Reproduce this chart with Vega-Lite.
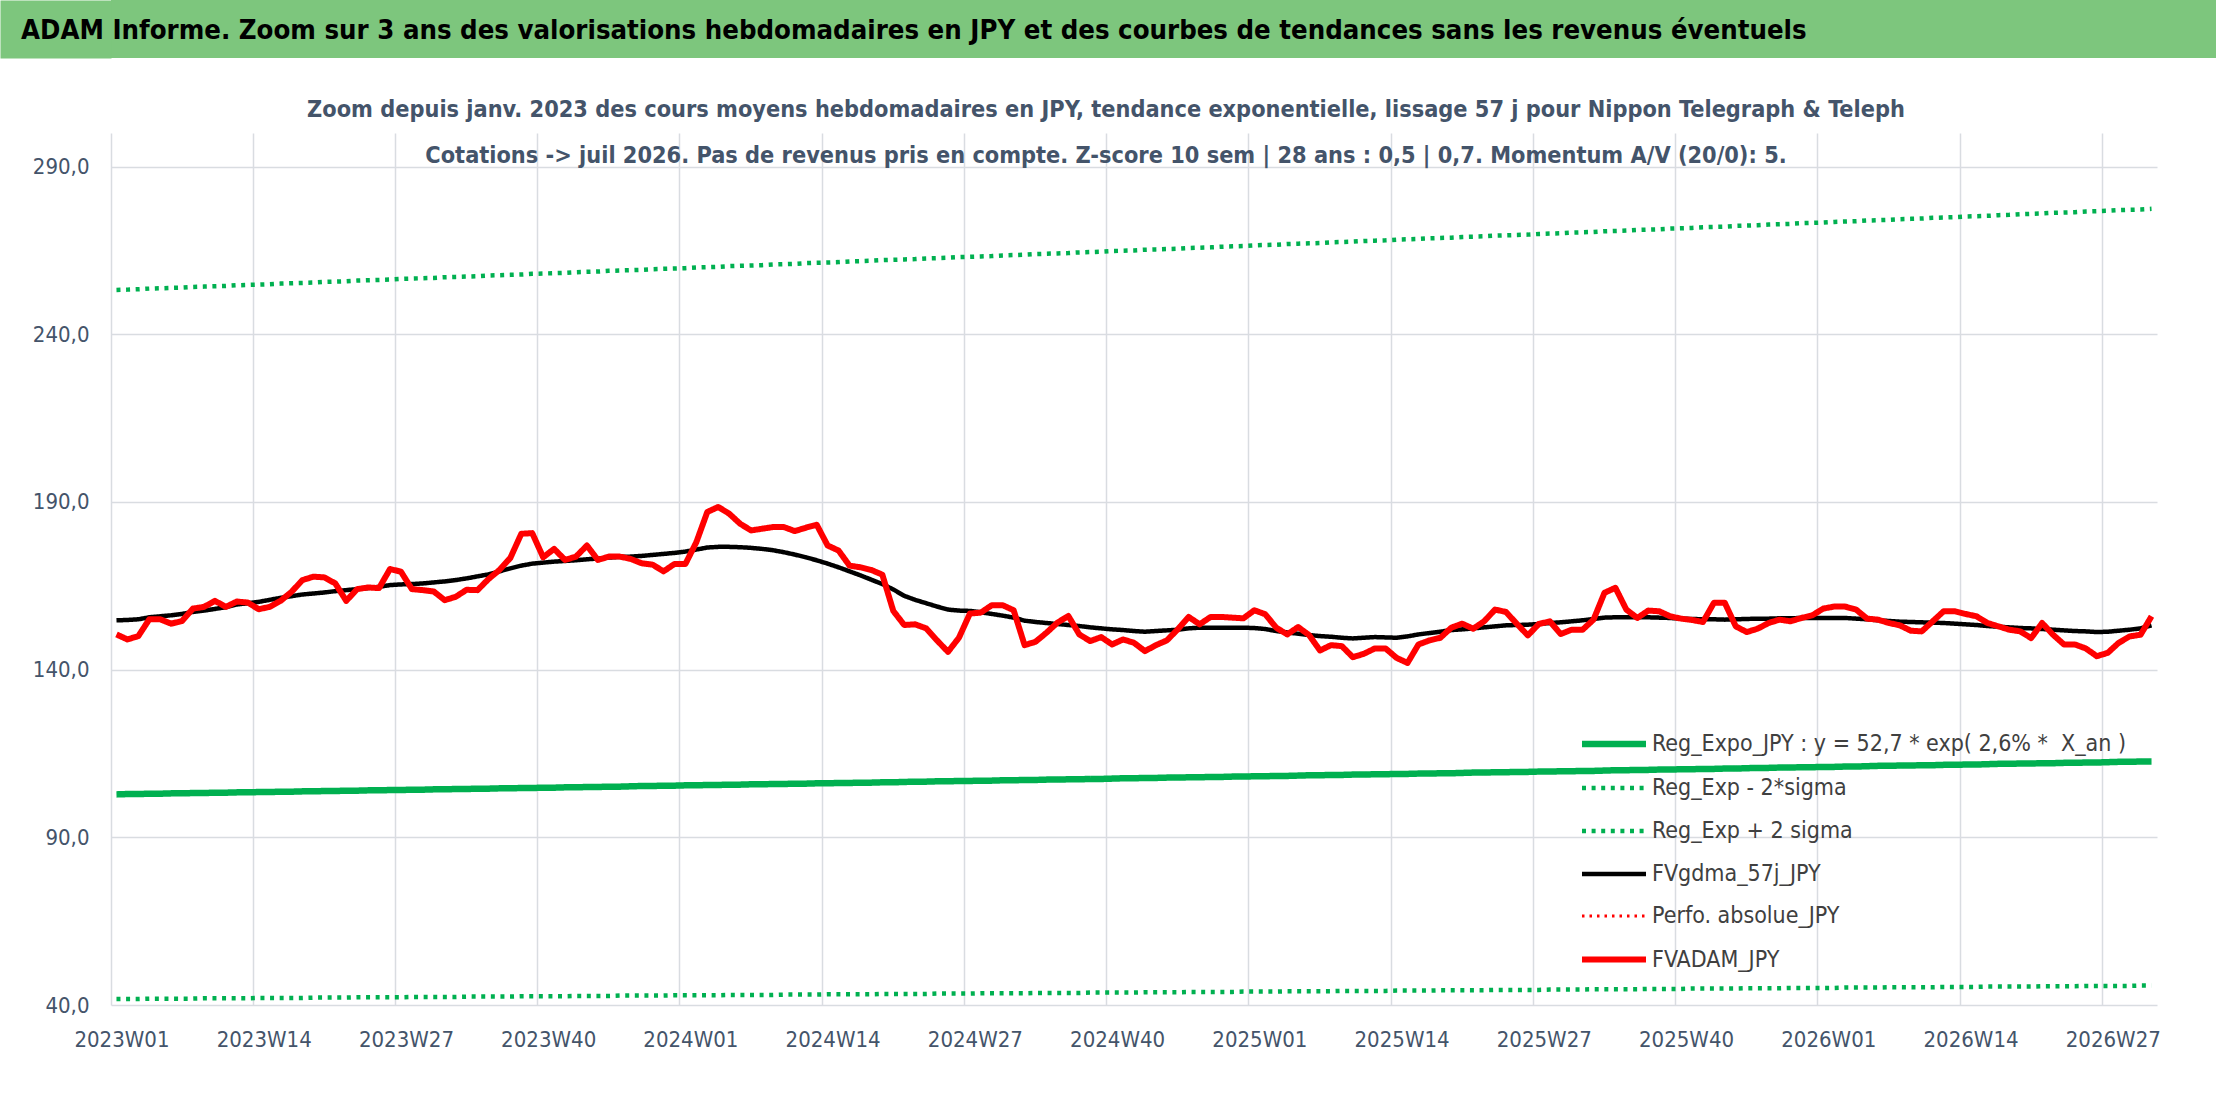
{
"$schema": "https://vega.github.io/schema/vega-lite/v6.json",
"background": "white",
"padding": 0,
"spacing": 39,
"config": {
  "view": {"stroke": null},
  "font": "DejaVu Sans Condensed, DejaVu Sans, sans-serif",
  "legend": {"orient": "none", "legendX": 1471, "legendY": 712, "symbolType": "M-1.123,0L1.123,0", "symbolSize": 3249, "labelFont": "DejaVu Sans Condensed, DejaVu Sans, sans-serif", "labelFontSize": 23, "labelColor": "#404040", "labelLimit": 1000, "labelOffset": 6, "rowPadding": 0, "padding": 0, "offset": 0}
},
"vconcat": [
  {
    "width": 2105, "height": 58,
    "view": {"fill": "#7DC67D", "stroke": null},
    "data": {"values": [{"t": "ADAM Informe. Zoom sur 3 ans des valorisations hebdomadaires en JPY et des courbes de tendances sans les revenus éventuels"}]},
    "mark": {"type": "text", "align": "left", "baseline": "middle", "x": -90, "dy": 2, "font": "DejaVu Sans Condensed, DejaVu Sans, sans-serif", "fontWeight": "bold", "fontSize": 27.3, "color": "#000000"},
    "encoding": {
      "text": {"field": "t", "type": "nominal"},
      "y": {"field": "t", "type": "nominal", "axis": {"labels": false, "ticks": false, "title": null, "grid": false, "domain": true, "domainColor": "#7DC67D", "domainWidth": 111, "offset": 55.5}}
    }
  },
  {
    "width": 2046, "height": 872,
    "title": {"text": ["Zoom depuis janv. 2023 des cours moyens hebdomadaires en JPY, tendance exponentielle, lissage 57 j pour Nippon Telegraph & Teleph", "Cotations -> juil 2026. Pas de revenus pris en compte. Z-score 10 sem | 28 ans : 0,5 | 0,7. Momentum A/V (20/0): 5."], "font": "DejaVu Sans Condensed, DejaVu Sans, sans-serif", "fontSize": 23.3, "fontWeight": "bold", "color": "#44546A", "lineHeight": 46, "anchor": "middle", "frame": "group", "dx": -28, "offset": -35},
    "data": {"values": [
{"w":"2023W01","a":150.5,"m":154.7,"r":102.8,"lo":41.8,"hi":253.2},
{"w":"2023W02","a":149.0,"m":154.8,"r":102.9,"lo":41.8,"hi":253.3},
{"w":"2023W03","a":150.0,"m":155.0,"r":102.9,"lo":41.8,"hi":253.4},
{"w":"2023W04","a":155.0,"m":155.6,"r":103.0,"lo":41.9,"hi":253.6},
{"w":"2023W05","a":155.0,"m":155.9,"r":103.0,"lo":41.9,"hi":253.7},
{"w":"2023W06","a":153.7,"m":156.2,"r":103.1,"lo":41.9,"hi":253.8},
{"w":"2023W07","a":154.5,"m":156.6,"r":103.1,"lo":41.9,"hi":253.9},
{"w":"2023W08","a":158.2,"m":157.2,"r":103.2,"lo":41.9,"hi":254.1},
{"w":"2023W09","a":158.7,"m":157.6,"r":103.2,"lo":42.0,"hi":254.2},
{"w":"2023W10","a":160.5,"m":158.1,"r":103.3,"lo":42.0,"hi":254.3},
{"w":"2023W11","a":158.7,"m":158.6,"r":103.3,"lo":42.0,"hi":254.4},
{"w":"2023W12","a":160.3,"m":159.4,"r":103.4,"lo":42.0,"hi":254.6},
{"w":"2023W13","a":160.0,"m":159.8,"r":103.4,"lo":42.0,"hi":254.7},
{"w":"2023W14","a":158.0,"m":160.2,"r":103.5,"lo":42.1,"hi":254.8},
{"w":"2023W15","a":158.7,"m":160.8,"r":103.5,"lo":42.1,"hi":254.9},
{"w":"2023W16","a":160.5,"m":161.4,"r":103.6,"lo":42.1,"hi":255.1},
{"w":"2023W17","a":163.2,"m":161.9,"r":103.6,"lo":42.1,"hi":255.2},
{"w":"2023W18","a":166.7,"m":162.4,"r":103.7,"lo":42.1,"hi":255.3},
{"w":"2023W19","a":167.7,"m":162.7,"r":103.7,"lo":42.2,"hi":255.4},
{"w":"2023W20","a":167.5,"m":163.0,"r":103.8,"lo":42.2,"hi":255.6},
{"w":"2023W21","a":165.7,"m":163.4,"r":103.8,"lo":42.2,"hi":255.7},
{"w":"2023W22","a":160.5,"m":163.7,"r":103.9,"lo":42.2,"hi":255.8},
{"w":"2023W23","a":164.0,"m":164.0,"r":103.9,"lo":42.3,"hi":256.0},
{"w":"2023W24","a":164.5,"m":164.3,"r":104.0,"lo":42.3,"hi":256.1},
{"w":"2023W25","a":164.3,"m":164.7,"r":104.0,"lo":42.3,"hi":256.2},
{"w":"2023W26","a":170.0,"m":165.2,"r":104.1,"lo":42.3,"hi":256.3},
{"w":"2023W27","a":169.2,"m":165.4,"r":104.1,"lo":42.3,"hi":256.5},
{"w":"2023W28","a":164.0,"m":165.5,"r":104.2,"lo":42.4,"hi":256.6},
{"w":"2023W29","a":163.7,"m":165.7,"r":104.2,"lo":42.4,"hi":256.7},
{"w":"2023W30","a":163.3,"m":166.0,"r":104.3,"lo":42.4,"hi":256.8},
{"w":"2023W31","a":160.7,"m":166.3,"r":104.3,"lo":42.4,"hi":257.0},
{"w":"2023W32","a":161.7,"m":166.7,"r":104.4,"lo":42.4,"hi":257.1},
{"w":"2023W33","a":163.8,"m":167.2,"r":104.4,"lo":42.5,"hi":257.2},
{"w":"2023W34","a":163.7,"m":167.8,"r":104.5,"lo":42.5,"hi":257.3},
{"w":"2023W35","a":167.0,"m":168.4,"r":104.5,"lo":42.5,"hi":257.5},
{"w":"2023W36","a":169.7,"m":169.3,"r":104.6,"lo":42.5,"hi":257.6},
{"w":"2023W37","a":173.3,"m":170.2,"r":104.6,"lo":42.5,"hi":257.7},
{"w":"2023W38","a":180.5,"m":171.0,"r":104.7,"lo":42.6,"hi":257.8},
{"w":"2023W39","a":180.7,"m":171.6,"r":104.7,"lo":42.6,"hi":258.0},
{"w":"2023W40","a":173.5,"m":171.9,"r":104.8,"lo":42.6,"hi":258.1},
{"w":"2023W41","a":176.0,"m":172.2,"r":104.8,"lo":42.6,"hi":258.2},
{"w":"2023W42","a":172.7,"m":172.4,"r":104.9,"lo":42.6,"hi":258.3},
{"w":"2023W43","a":173.7,"m":172.6,"r":104.9,"lo":42.7,"hi":258.5},
{"w":"2023W44","a":177.0,"m":172.9,"r":105.0,"lo":42.7,"hi":258.6},
{"w":"2023W45","a":172.7,"m":173.1,"r":105.0,"lo":42.7,"hi":258.7},
{"w":"2023W46","a":173.7,"m":173.4,"r":105.1,"lo":42.7,"hi":258.9},
{"w":"2023W47","a":173.7,"m":173.6,"r":105.1,"lo":42.8,"hi":259.0},
{"w":"2023W48","a":173.0,"m":173.7,"r":105.2,"lo":42.8,"hi":259.1},
{"w":"2023W49","a":171.7,"m":173.9,"r":105.3,"lo":42.8,"hi":259.2},
{"w":"2023W50","a":171.3,"m":174.2,"r":105.3,"lo":42.8,"hi":259.4},
{"w":"2023W51","a":169.3,"m":174.5,"r":105.4,"lo":42.8,"hi":259.5},
{"w":"2023W52","a":171.5,"m":174.8,"r":105.4,"lo":42.9,"hi":259.6},
{"w":"2024W01","a":171.5,"m":175.2,"r":105.5,"lo":42.9,"hi":259.7},
{"w":"2024W02","a":178.0,"m":175.8,"r":105.5,"lo":42.9,"hi":259.9},
{"w":"2024W03","a":187.0,"m":176.4,"r":105.6,"lo":42.9,"hi":260.0},
{"w":"2024W04","a":188.5,"m":176.6,"r":105.6,"lo":42.9,"hi":260.1},
{"w":"2024W05","a":186.5,"m":176.6,"r":105.7,"lo":43.0,"hi":260.3},
{"w":"2024W06","a":183.5,"m":176.5,"r":105.7,"lo":43.0,"hi":260.4},
{"w":"2024W07","a":181.5,"m":176.3,"r":105.8,"lo":43.0,"hi":260.5},
{"w":"2024W08","a":182.0,"m":176.0,"r":105.8,"lo":43.0,"hi":260.6},
{"w":"2024W09","a":182.5,"m":175.6,"r":105.9,"lo":43.0,"hi":260.8},
{"w":"2024W10","a":182.5,"m":175.0,"r":105.9,"lo":43.1,"hi":260.9},
{"w":"2024W11","a":181.3,"m":174.3,"r":106.0,"lo":43.1,"hi":261.0},
{"w":"2024W12","a":182.3,"m":173.5,"r":106.0,"lo":43.1,"hi":261.2},
{"w":"2024W13","a":183.2,"m":172.6,"r":106.1,"lo":43.1,"hi":261.3},
{"w":"2024W14","a":177.0,"m":171.6,"r":106.1,"lo":43.2,"hi":261.4},
{"w":"2024W15","a":175.5,"m":170.5,"r":106.2,"lo":43.2,"hi":261.5},
{"w":"2024W16","a":171.0,"m":169.3,"r":106.2,"lo":43.2,"hi":261.7},
{"w":"2024W17","a":170.5,"m":168.1,"r":106.3,"lo":43.2,"hi":261.8},
{"w":"2024W18","a":169.7,"m":166.8,"r":106.3,"lo":43.2,"hi":261.9},
{"w":"2024W19","a":168.3,"m":165.5,"r":106.4,"lo":43.3,"hi":262.1},
{"w":"2024W20","a":157.5,"m":163.9,"r":106.4,"lo":43.3,"hi":262.2},
{"w":"2024W21","a":153.3,"m":162.0,"r":106.5,"lo":43.3,"hi":262.3},
{"w":"2024W22","a":153.5,"m":160.8,"r":106.6,"lo":43.3,"hi":262.4},
{"w":"2024W23","a":152.3,"m":159.8,"r":106.6,"lo":43.3,"hi":262.6},
{"w":"2024W24","a":148.7,"m":158.8,"r":106.7,"lo":43.4,"hi":262.7},
{"w":"2024W25","a":145.3,"m":157.9,"r":106.7,"lo":43.4,"hi":262.8},
{"w":"2024W26","a":149.5,"m":157.6,"r":106.8,"lo":43.4,"hi":263.0},
{"w":"2024W27","a":156.7,"m":157.5,"r":106.8,"lo":43.4,"hi":263.1},
{"w":"2024W28","a":157.0,"m":157.1,"r":106.9,"lo":43.5,"hi":263.2},
{"w":"2024W29","a":159.2,"m":156.6,"r":106.9,"lo":43.5,"hi":263.3},
{"w":"2024W30","a":159.2,"m":156.1,"r":107.0,"lo":43.5,"hi":263.5},
{"w":"2024W31","a":157.7,"m":155.5,"r":107.0,"lo":43.5,"hi":263.6},
{"w":"2024W32","a":147.3,"m":154.6,"r":107.1,"lo":43.5,"hi":263.7},
{"w":"2024W33","a":148.3,"m":154.2,"r":107.1,"lo":43.6,"hi":263.9},
{"w":"2024W34","a":151.0,"m":153.9,"r":107.2,"lo":43.6,"hi":264.0},
{"w":"2024W35","a":154.0,"m":153.6,"r":107.2,"lo":43.6,"hi":264.1},
{"w":"2024W36","a":156.0,"m":153.3,"r":107.3,"lo":43.6,"hi":264.2},
{"w":"2024W37","a":150.5,"m":153.0,"r":107.3,"lo":43.6,"hi":264.4},
{"w":"2024W38","a":148.5,"m":152.6,"r":107.4,"lo":43.7,"hi":264.5},
{"w":"2024W39","a":149.7,"m":152.3,"r":107.4,"lo":43.7,"hi":264.6},
{"w":"2024W40","a":147.5,"m":152.0,"r":107.5,"lo":43.7,"hi":264.8},
{"w":"2024W41","a":149.0,"m":151.8,"r":107.6,"lo":43.7,"hi":264.9},
{"w":"2024W42","a":148.0,"m":151.5,"r":107.6,"lo":43.7,"hi":265.0},
{"w":"2024W43","a":145.5,"m":151.3,"r":107.7,"lo":43.8,"hi":265.2},
{"w":"2024W44","a":147.3,"m":151.5,"r":107.7,"lo":43.8,"hi":265.3},
{"w":"2024W45","a":148.7,"m":151.7,"r":107.8,"lo":43.8,"hi":265.4},
{"w":"2024W46","a":152.0,"m":151.9,"r":107.8,"lo":43.8,"hi":265.5},
{"w":"2024W47","a":155.7,"m":152.3,"r":107.9,"lo":43.9,"hi":265.7},
{"w":"2024W48","a":153.5,"m":152.5,"r":107.9,"lo":43.9,"hi":265.8},
{"w":"2024W49","a":155.7,"m":152.5,"r":108.0,"lo":43.9,"hi":265.9},
{"w":"2024W50","a":155.7,"m":152.5,"r":108.0,"lo":43.9,"hi":266.1},
{"w":"2024W51","a":155.5,"m":152.5,"r":108.1,"lo":43.9,"hi":266.2},
{"w":"2024W52","a":155.3,"m":152.5,"r":108.1,"lo":44.0,"hi":266.3},
{"w":"2025W01","a":157.7,"m":152.4,"r":108.2,"lo":44.0,"hi":266.5},
{"w":"2025W02","a":156.5,"m":152.1,"r":108.2,"lo":44.0,"hi":266.6},
{"w":"2025W03","a":152.5,"m":151.5,"r":108.3,"lo":44.0,"hi":266.7},
{"w":"2025W04","a":150.5,"m":151.1,"r":108.3,"lo":44.1,"hi":266.9},
{"w":"2025W05","a":152.7,"m":150.7,"r":108.4,"lo":44.1,"hi":267.0},
{"w":"2025W06","a":150.3,"m":150.3,"r":108.5,"lo":44.1,"hi":267.1},
{"w":"2025W07","a":145.7,"m":150.0,"r":108.5,"lo":44.1,"hi":267.2},
{"w":"2025W08","a":147.3,"m":149.8,"r":108.6,"lo":44.1,"hi":267.4},
{"w":"2025W09","a":147.0,"m":149.5,"r":108.6,"lo":44.2,"hi":267.5},
{"w":"2025W10","a":143.7,"m":149.3,"r":108.7,"lo":44.2,"hi":267.6},
{"w":"2025W11","a":144.7,"m":149.5,"r":108.7,"lo":44.2,"hi":267.8},
{"w":"2025W12","a":146.3,"m":149.7,"r":108.8,"lo":44.2,"hi":267.9},
{"w":"2025W13","a":146.3,"m":149.6,"r":108.8,"lo":44.2,"hi":268.0},
{"w":"2025W14","a":143.5,"m":149.5,"r":108.9,"lo":44.3,"hi":268.2},
{"w":"2025W15","a":142.0,"m":149.9,"r":108.9,"lo":44.3,"hi":268.3},
{"w":"2025W16","a":147.5,"m":150.5,"r":109.0,"lo":44.3,"hi":268.4},
{"w":"2025W17","a":148.7,"m":150.9,"r":109.0,"lo":44.3,"hi":268.6},
{"w":"2025W18","a":149.5,"m":151.3,"r":109.1,"lo":44.4,"hi":268.7},
{"w":"2025W19","a":152.5,"m":151.8,"r":109.1,"lo":44.4,"hi":268.8},
{"w":"2025W20","a":153.7,"m":152.0,"r":109.2,"lo":44.4,"hi":269.0},
{"w":"2025W21","a":152.2,"m":152.3,"r":109.3,"lo":44.4,"hi":269.1},
{"w":"2025W22","a":154.4,"m":152.6,"r":109.3,"lo":44.4,"hi":269.2},
{"w":"2025W23","a":157.9,"m":152.9,"r":109.4,"lo":44.5,"hi":269.4},
{"w":"2025W24","a":157.2,"m":153.2,"r":109.4,"lo":44.5,"hi":269.5},
{"w":"2025W25","a":153.6,"m":153.3,"r":109.5,"lo":44.5,"hi":269.6},
{"w":"2025W26","a":150.2,"m":153.4,"r":109.5,"lo":44.5,"hi":269.7},
{"w":"2025W27","a":153.6,"m":153.6,"r":109.6,"lo":44.5,"hi":269.9},
{"w":"2025W28","a":154.4,"m":153.9,"r":109.6,"lo":44.6,"hi":270.0},
{"w":"2025W29","a":150.6,"m":154.1,"r":109.7,"lo":44.6,"hi":270.1},
{"w":"2025W30","a":151.9,"m":154.4,"r":109.7,"lo":44.6,"hi":270.3},
{"w":"2025W31","a":151.9,"m":154.7,"r":109.8,"lo":44.6,"hi":270.4},
{"w":"2025W32","a":154.9,"m":155.1,"r":109.8,"lo":44.7,"hi":270.5},
{"w":"2025W33","a":162.9,"m":155.5,"r":109.9,"lo":44.7,"hi":270.7},
{"w":"2025W34","a":164.4,"m":155.6,"r":110.0,"lo":44.7,"hi":270.8},
{"w":"2025W35","a":157.9,"m":155.6,"r":110.0,"lo":44.7,"hi":270.9},
{"w":"2025W36","a":155.4,"m":155.6,"r":110.1,"lo":44.7,"hi":271.1},
{"w":"2025W37","a":157.6,"m":155.6,"r":110.1,"lo":44.8,"hi":271.2},
{"w":"2025W38","a":157.4,"m":155.5,"r":110.2,"lo":44.8,"hi":271.3},
{"w":"2025W39","a":155.9,"m":155.4,"r":110.2,"lo":44.8,"hi":271.5},
{"w":"2025W40","a":155.2,"m":155.2,"r":110.3,"lo":44.8,"hi":271.6},
{"w":"2025W41","a":154.8,"m":155.1,"r":110.3,"lo":44.9,"hi":271.7},
{"w":"2025W42","a":154.2,"m":155.0,"r":110.4,"lo":44.9,"hi":271.9},
{"w":"2025W43","a":159.9,"m":155.0,"r":110.4,"lo":44.9,"hi":272.0},
{"w":"2025W44","a":159.9,"m":154.9,"r":110.5,"lo":44.9,"hi":272.1},
{"w":"2025W45","a":152.9,"m":155.0,"r":110.5,"lo":44.9,"hi":272.3},
{"w":"2025W46","a":151.2,"m":155.1,"r":110.6,"lo":45.0,"hi":272.4},
{"w":"2025W47","a":152.2,"m":155.2,"r":110.7,"lo":45.0,"hi":272.5},
{"w":"2025W48","a":153.9,"m":155.2,"r":110.7,"lo":45.0,"hi":272.7},
{"w":"2025W49","a":154.9,"m":155.3,"r":110.8,"lo":45.0,"hi":272.8},
{"w":"2025W50","a":154.4,"m":155.3,"r":110.8,"lo":45.1,"hi":272.9},
{"w":"2025W51","a":155.4,"m":155.4,"r":110.9,"lo":45.1,"hi":273.1},
{"w":"2025W52","a":156.2,"m":155.4,"r":110.9,"lo":45.1,"hi":273.2},
{"w":"2026W01","a":158.2,"m":155.4,"r":111.0,"lo":45.1,"hi":273.3},
{"w":"2026W02","a":158.8,"m":155.4,"r":111.0,"lo":45.1,"hi":273.5},
{"w":"2026W03","a":158.8,"m":155.4,"r":111.1,"lo":45.2,"hi":273.6},
{"w":"2026W04","a":157.9,"m":155.2,"r":111.1,"lo":45.2,"hi":273.7},
{"w":"2026W05","a":155.2,"m":155.0,"r":111.2,"lo":45.2,"hi":273.9},
{"w":"2026W06","a":154.9,"m":154.7,"r":111.3,"lo":45.2,"hi":274.0},
{"w":"2026W07","a":153.9,"m":154.5,"r":111.3,"lo":45.3,"hi":274.1},
{"w":"2026W08","a":153.2,"m":154.3,"r":111.4,"lo":45.3,"hi":274.3},
{"w":"2026W09","a":151.6,"m":154.2,"r":111.4,"lo":45.3,"hi":274.4},
{"w":"2026W10","a":151.4,"m":154.1,"r":111.5,"lo":45.3,"hi":274.5},
{"w":"2026W11","a":154.4,"m":154.0,"r":111.5,"lo":45.3,"hi":274.7},
{"w":"2026W12","a":157.4,"m":153.9,"r":111.6,"lo":45.4,"hi":274.8},
{"w":"2026W13","a":157.4,"m":153.7,"r":111.6,"lo":45.4,"hi":274.9},
{"w":"2026W14","a":156.6,"m":153.5,"r":111.7,"lo":45.4,"hi":275.1},
{"w":"2026W15","a":155.9,"m":153.3,"r":111.7,"lo":45.4,"hi":275.2},
{"w":"2026W16","a":153.9,"m":153.0,"r":111.8,"lo":45.5,"hi":275.3},
{"w":"2026W17","a":152.9,"m":152.8,"r":111.9,"lo":45.5,"hi":275.5},
{"w":"2026W18","a":151.9,"m":152.6,"r":111.9,"lo":45.5,"hi":275.6},
{"w":"2026W19","a":151.4,"m":152.4,"r":112.0,"lo":45.5,"hi":275.8},
{"w":"2026W20","a":149.4,"m":152.3,"r":112.0,"lo":45.5,"hi":275.9},
{"w":"2026W21","a":153.9,"m":152.1,"r":112.1,"lo":45.6,"hi":276.0},
{"w":"2026W22","a":150.4,"m":151.9,"r":112.1,"lo":45.6,"hi":276.2},
{"w":"2026W23","a":147.5,"m":151.7,"r":112.2,"lo":45.6,"hi":276.3},
{"w":"2026W24","a":147.5,"m":151.5,"r":112.2,"lo":45.6,"hi":276.4},
{"w":"2026W25","a":146.3,"m":151.4,"r":112.3,"lo":45.7,"hi":276.6},
{"w":"2026W26","a":144.0,"m":151.2,"r":112.3,"lo":45.7,"hi":276.7},
{"w":"2026W27","a":145.0,"m":151.3,"r":112.4,"lo":45.7,"hi":276.8},
{"w":"2026W28","a":148.0,"m":151.6,"r":112.5,"lo":45.7,"hi":277.0},
{"w":"2026W29","a":149.9,"m":151.9,"r":112.5,"lo":45.7,"hi":277.1},
{"w":"2026W30","a":150.4,"m":152.3,"r":112.6,"lo":45.8,"hi":277.2},
{"w":"2026W31","a":155.9,"m":153.2,"r":112.6,"lo":45.8,"hi":277.4}
    ]},
    "transform": [{"fold": ["r", "lo", "hi", "m", "a"], "as": ["s", "v"]}],
    "mark": {"type": "line", "strokeCap": "butt", "strokeJoin": "round"},
    "encoding": {
      "x": {"field": "w", "type": "ordinal", "scale": {"type": "band", "paddingInner": 0, "paddingOuter": 0},
        "axis": {"values": ["2023W01","2023W14","2023W27","2023W40","2024W01","2024W14","2024W27","2024W40","2025W01","2025W14","2025W27","2025W40","2026W01","2026W14","2026W27"], "bandPosition": 0, "labelOffset": 5.5, "labelAngle": 0, "labelFont": "DejaVu Sans Condensed, DejaVu Sans, sans-serif", "labelFontSize": 22, "labelColor": "#44546A", "labelPadding": 24, "ticks": false, "domain": false, "grid": true, "gridColor": "#D9DCE1", "gridWidth": 1.5, "title": null}},
      "y": {"field": "v", "type": "quantitative", "scale": {"domain": [40, 300], "nice": false, "zero": false},
        "axis": {"values": [40, 90, 140, 190, 240, 290], "labelExpr": "replace(format(datum.value, '.1f'), '.', ',')", "labelFont": "DejaVu Sans Condensed, DejaVu Sans, sans-serif", "labelFontSize": 22, "labelColor": "#44546A", "labelPadding": 22, "ticks": false, "domain": false, "gridColor": "#D9DCE1", "gridWidth": 1.5, "title": null, "minExtent": 111}},
      "color": {"field": "s", "type": "nominal", "scale": {"domain": ["r", "lo", "hi", "m", "p", "a"], "range": ["#00B050", "#00B050", "#00B050", "#000000", "#FF0000", "#FF0000"]},
        "legend": {"title": null, "labelExpr": "datum.label == 'r' ? 'Reg_Expo_JPY : y = 52,7 * exp( 2,6% * \u00a0X_an )' : datum.label == 'lo' ? 'Reg_Exp - 2*sigma' : datum.label == 'hi' ? 'Reg_Exp + 2 sigma' : datum.label == 'm' ? 'FVgdma_57j_JPY' : datum.label == 'p' ? 'Perfo. absolue_JPY' : 'FVADAM_JPY'"}},
      "strokeDash": {"field": "s", "type": "nominal", "scale": {"domain": ["r", "lo", "hi", "m", "p", "a"], "range": [[1, 0], [4, 5.6], [4, 5.6], [1, 0], [2.5, 5], [1, 0]]},
        "legend": {"title": null, "labelExpr": "datum.label == 'r' ? 'Reg_Expo_JPY : y = 52,7 * exp( 2,6% * \u00a0X_an )' : datum.label == 'lo' ? 'Reg_Exp - 2*sigma' : datum.label == 'hi' ? 'Reg_Exp + 2 sigma' : datum.label == 'm' ? 'FVgdma_57j_JPY' : datum.label == 'p' ? 'Perfo. absolue_JPY' : 'FVADAM_JPY'"}},
      "strokeWidth": {"field": "s", "type": "nominal", "scale": {"type": "ordinal", "domain": ["r", "lo", "hi", "m", "p", "a"], "range": [6.5, 4.5, 4.5, 4.5, 3, 6]},
        "legend": {"title": null, "labelExpr": "datum.label == 'r' ? 'Reg_Expo_JPY : y = 52,7 * exp( 2,6% * \u00a0X_an )' : datum.label == 'lo' ? 'Reg_Exp - 2*sigma' : datum.label == 'hi' ? 'Reg_Exp + 2 sigma' : datum.label == 'm' ? 'FVgdma_57j_JPY' : datum.label == 'p' ? 'Perfo. absolue_JPY' : 'FVADAM_JPY'"}}
    }
  }
]
}
